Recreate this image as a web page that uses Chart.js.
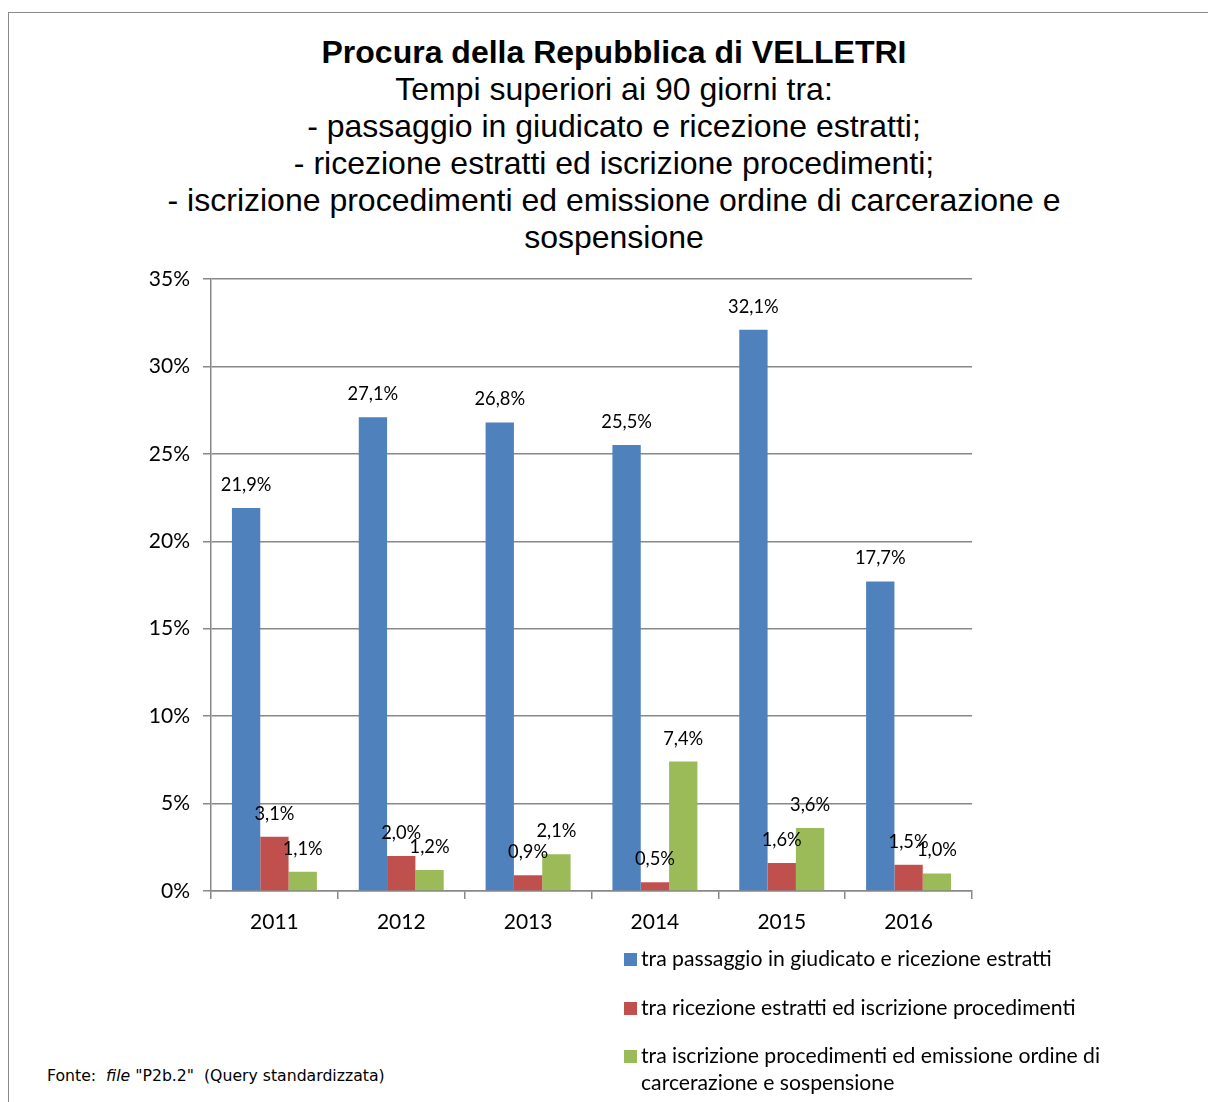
<!DOCTYPE html>
<html>
<head>
<meta charset="utf-8">
<script src="https://cdn.jsdelivr.net/npm/chart.js@4/dist/chart.umd.min.js"></script>
<style>
  html, body { margin: 0; padding: 0; background: #fff; overflow: hidden; }
  body { width: 1208px; height: 1102px; position: relative; }
  #cornice { position: absolute; left: 8px; top: 12px; width: 1300px; height: 1200px; border: 1.5px solid #8a8a8a; }
  #titolo { position: absolute; left: 0; top: 34px; width: 1228px; text-align: center;
            font-family: "Liberation Sans", Arial, sans-serif; font-size: 32px; line-height: 37px; color: #000; }
  #titolo b { font-weight: bold; font-size: 32px; }
  #grafico { position: absolute; left: 0; top: 1px; width: 1208px; height: 960px; }
  #legenda { position: absolute; left: 624px; top: 945px; font-family: Lato, sans-serif; font-size: 21.2px; color: #000; }
  .voce { position: relative; padding-left: 17px; line-height: 27px; margin-bottom: 21.5px; width: 500px; }
  .voce span { position: absolute; left: 0; top: 8px; width: 13px; height: 13px; }
  #fonte { position: absolute; left: 47px; top: 1066px; font-family: "DejaVu Sans", sans-serif; font-size: 15.7px; }
</style>
</head>
<body>
<div id="cornice"></div>
<div id="titolo">
  <b>Procura della Repubblica di VELLETRI</b><br>
  Tempi superiori ai 90 giorni tra:<br>
  - passaggio in giudicato e ricezione estratti;<br>
  - ricezione estratti ed iscrizione procedimenti;<br>
  - iscrizione procedimenti ed emissione ordine di carcerazione e<br>
  sospensione
</div>
<div id="grafico"><canvas id="tela"></canvas></div>
<div id="legenda"></div>
<div id="fonte">Fonte:&nbsp; <i>file</i> "P2b.2"&nbsp; (Query standardizzata)</div>

<script>
// Dati
const anni = ['2011', '2012', '2013', '2014', '2015', '2016'];
const passaggioRicezione = [21.9, 27.1, 26.8, 25.5, 32.1, 17.7];
const ricezioneIscrizione = [3.1, 2.0, 0.9, 0.5, 1.6, 1.5];
const iscrizioneEmissione = [1.1, 1.2, 2.1, 7.4, 3.6, 1.0];
const tickAsseY = [0, 5, 10, 15, 20, 25, 30, 35];

const serie = [
    { label: 'tra passaggio in giudicato e ricezione estratti', data: passaggioRicezione, color: '#4F81BD' },
    { label: 'tra ricezione estratti ed iscrizione procedimenti', data: ricezioneIscrizione, color: '#C0504D' },
    { label: 'tra iscrizione procedimenti ed emissione ordine di carcerazione e sospensione', data: iscrizioneEmissione, color: '#9BBB59' }
];

// Legenda in HTML (il testo va a capo come nell'originale)
const legenda = document.getElementById('legenda');
serie.forEach(function (s) {
    const voce = document.createElement('div');
    voce.className = 'voce';
    voce.innerHTML = '<span style="background:' + s.color + '"></span>' + s.label;
    legenda.appendChild(voce);
});

// Etichette dei valori sopra le barre
const etichetteValori = {
    id: 'etichetteValori',
    afterDatasetsDraw(chart) {
        const ctx = chart.ctx;
        ctx.save();
        ctx.font = '18.3px Lato, sans-serif';
        ctx.fillStyle = '#000';
        ctx.textAlign = 'center';
        ctx.textBaseline = 'middle';
        chart.data.datasets.forEach(function (ds, i) {
            chart.getDatasetMeta(i).data.forEach(function (bar, j) {
                const testo = ds.data[j].toFixed(1).replace('.', ',') + '%';
                ctx.fillText(testo, bar.x, bar.y - 23);
            });
        });
        ctx.restore();
    }
};

const grigio = '#888888';

new Chart(document.getElementById('tela'), {
    type: 'bar',
    data: {
        labels: anni,
        datasets: serie.map(function (s) {
            return {
                label: s.label,
                data: s.data,
                backgroundColor: s.color,
                borderWidth: 0,
                barPercentage: 1,
                categoryPercentage: 0.67
            };
        })
    },
    options: {
        responsive: true,
        maintainAspectRatio: false,
        animation: false,
        layout: { padding: { top: 278, left: 0, right: 236, bottom: 0 } },
        plugins: {
            legend: { display: false },
            title: { display: false },
            tooltip: { enabled: false }
        },
        scales: {
            x: {
                afterFit: function (scale) { scale.height = 70; },
                grid: { drawOnChartArea: false, drawTicks: true, tickLength: 8, color: grigio, lineWidth: 1.5, offset: true },
                border: { color: grigio, width: 1.5 },
                ticks: { color: '#000', padding: 11, font: { family: 'Lato', size: 21 } }
            },
            y: {
                min: 0,
                max: 35,
                afterFit: function (scale) { scale.width = 211; },
                afterBuildTicks: function (scale) { scale.ticks = tickAsseY.map(function (v) { return { value: v }; }); },
                grid: { color: grigio, lineWidth: 1.5, tickLength: 8 },
                border: { color: grigio, width: 1.5 },
                ticks: {
                    color: '#000',
                    padding: 13,
                    font: { family: 'Lato', size: 21 },
                    callback: function (v) { return v + '%'; }
                }
            }
        }
    },
    plugins: [etichetteValori]
});
</script>
</body>
</html>
